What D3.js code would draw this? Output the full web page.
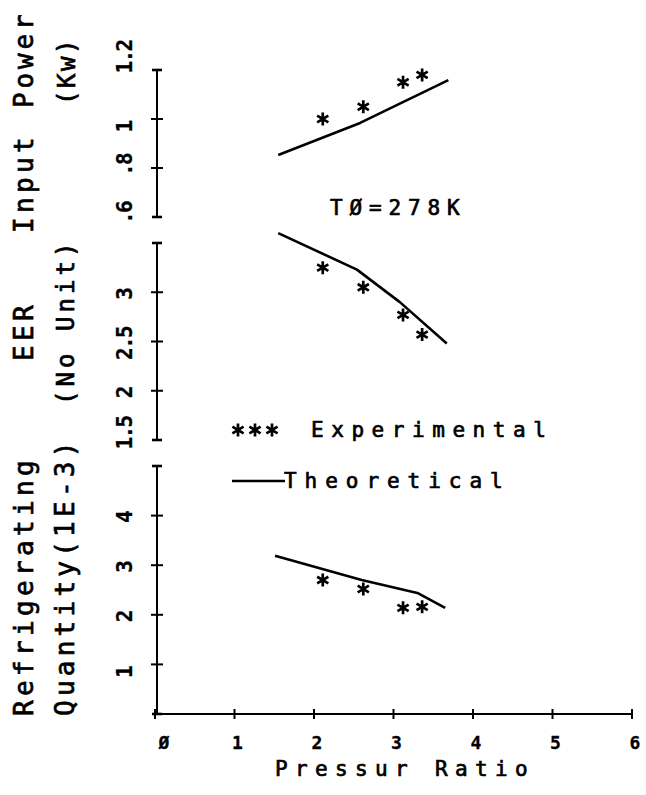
<!DOCTYPE html>
<html><head><meta charset="utf-8">
<script src="https://cdn.jsdelivr.net/npm/d3@7"></script>
<style>html,body{margin:0;padding:0;background:#fff;}svg{display:block;}</style>
</head><body>
<svg id="c" width="646" height="795"></svg>
<script>
// ---------- data ----------
const xTicks = [0, 1, 2, 3, 4, 5, 6];
const xTickLabels = ["Ø", "1", "2", "3", "4", "5", "6"];

const powerTicks = [0.6, 0.8, 1.0, 1.2];
const powerTickLabels = [".6", ".8", "1", "1.2"];
const eerTicks = [1.5, 2, 2.5, 3, 3.5];
const eerTickLabels = ["1.5", "2", "2.5", "3", ""];
const rqTicks = [0, 1, 2, 3, 4, 5];
const rqTickLabels = ["", "1", "2", "3", "4", ""];

const expX = [2.11, 2.62, 3.12, 3.36];
const powerExp = [1.00, 1.05, 1.15, 1.18];
const eerExp = [3.25, 3.05, 2.77, 2.57];
const rqExp = [2.70, 2.52, 2.14, 2.16];

const powerTheoX = [1.55, 2.58, 3.69];
const powerTheo = [0.853, 0.984, 1.159];
const eerTheoX = [1.55, 2.54, 3.08, 3.67];
const eerTheo = [3.60, 3.23, 2.90, 2.48];
const rqTheoX = [1.51, 2.60, 3.30, 3.65];
const rqTheo = [3.19, 2.70, 2.44, 2.14];

// ---------- layout ----------
const svg = d3.select("#c");
const INK = "#000";
const FONT = "'DejaVu Sans Mono', 'Liberation Mono', monospace";
const AX = 157;        // vertical axis x
const x = d3.scaleLinear().domain([0, 6]).range([155, 632]);
const yPower = d3.scaleLinear().domain([0.6, 1.2]).range([217, 70]);
const yEer = d3.scaleLinear().domain([1.5, 3.5]).range([440, 243]);
const yRq = d3.scaleLinear().domain([0, 5]).range([714, 466]);

function text(str, px, py, o) {
  const size = o.size, adv = o.adv;
  const ls = adv - 0.602 * size;
  const g = svg.append("g").attr("transform",
    `translate(${px},${py})` + (o.rot ? " rotate(-90)" : ""));
  g.append("text")
    .attr("x", 0).attr("y", 0)
    .attr("font-family", FONT)
    .attr("font-size", size)
    .attr("font-weight", o.weight || "normal")
    .attr("letter-spacing", ls)
    .attr("fill", INK)
    .attr("stroke", INK)
    .attr("stroke-width", o.weight === "bold" ? 0.3 : 0.7)
    .text(str);
}

function star(g, cx, cy) {
  const r = 6.5, dx = 5.6, dy = 3.3;
  g.append("path")
    .attr("d", `M${cx},${cy - r}L${cx},${cy + r}M${cx - dx},${cy - dy}L${cx + dx},${cy + dy}M${cx - dx},${cy + dy}L${cx + dx},${cy - dy}`)
    .attr("stroke", INK).attr("stroke-width", 2.7).attr("fill", "none");
}

// vertical panel axis
const labelNudge = { "1.2": -15, "1": 6, ".8": -5, ".6": -6, "1.5": -9 };
function panelAxis(scale, ticks, labels) {
  const g = svg.append("g");
  const [d0, d1] = scale.domain();
  g.append("line").attr("x1", AX).attr("x2", AX)
    .attr("y1", scale(d0)).attr("y2", scale(d1))
    .attr("stroke", INK).attr("stroke-width", 2);
  ticks.forEach((t, i) => {
    const yy = scale(t);
    const end = (t === d0 || t === d1);
    g.append("line").attr("x1", AX - (end ? 5 : 6)).attr("x2", AX + (end ? 5 : 6))
      .attr("y1", yy).attr("y2", yy)
      .attr("stroke", INK).attr("stroke-width", end ? 2.6 : 2);
    const lab = labels[i];
    if (lab) {
      const adv = 11;
      const center = yy + 3 + (labelNudge[lab] || 0);
      text(lab, 132, center + lab.length * adv / 2 - 1, { size: 21, adv: adv, weight: "bold", rot: true });
    }
  });
}
panelAxis(yPower, powerTicks, powerTickLabels);
panelAxis(yEer, eerTicks, eerTickLabels);
panelAxis(yRq, rqTicks, rqTickLabels);

// x axis
const xg = svg.append("g");
xg.append("line").attr("x1", x(0)).attr("x2", x(6)).attr("y1", yRq(0)).attr("y2", yRq(0))
  .attr("stroke", INK).attr("stroke-width", 2);
xTicks.forEach((t, i) => {
  xg.append("line").attr("x1", x(t)).attr("x2", x(t))
    .attr("y1", yRq(0) - 5).attr("y2", yRq(0) + 5)
    .attr("stroke", INK).attr("stroke-width", 2);
  const lab = xTickLabels[i];
  const off = (t === 0) ? 9 : 3;
  text(lab, x(t) + off - 5.5, 749, { size: 18, adv: 11, weight: "bold" });
});

// series
const line = d3.line().x(d => x(d[0])).y(d => d[1]);
function series(scale, tx, ty, ex, ey) {
  const g = svg.append("g");
  g.append("path")
    .attr("d", line(tx.map((v, i) => [v, scale(ty[i])])))
    .attr("fill", "none").attr("stroke", INK).attr("stroke-width", 2.6)
    .attr("stroke-linejoin", "round");
  ex.forEach((v, i) => star(g, x(v), scale(ey[i])));
}
series(yPower, powerTheoX, powerTheo, expX, powerExp);
series(yEer, eerTheoX, eerTheo, expX, eerExp);
series(yRq, rqTheoX, rqTheo, expX, rqExp);

// annotations
text("TØ=278K", 330, 215, { size: 21, adv: 19.5 });

// legend
const lg = svg.append("g");
[238, 255, 272].forEach(cx => star(lg, cx, 430));
text("Experimental", 311, 437, { size: 21, adv: 20.2 });
lg.append("line").attr("x1", 232).attr("x2", 285).attr("y1", 481).attr("y2", 481)
  .attr("stroke", INK).attr("stroke-width", 2.4);
text("Theoretical", 284, 488, { size: 21, adv: 20.6 });

// x title
text("Pressur Ratio", 275, 776, { size: 21, adv: 20 });

// y titles (rotated)
text("Input", 33, 233, { size: 26, adv: 20, rot: true });
text("Power", 33, 108, { size: 26, adv: 19.5, rot: true });
text("(Kw)", 75, 105, { size: 24, adv: 17, rot: true });
text("EER", 33, 361, { size: 26, adv: 20, rot: true });
text("(No Unit)", 74, 405, { size: 24, adv: 18.5, rot: true });
text("Refrigerating", 33, 716, { size: 26, adv: 20, rot: true });
text("Quantity(1E-3)", 74, 716, { size: 26, adv: 19.9, rot: true });
</script>
</body></html>
